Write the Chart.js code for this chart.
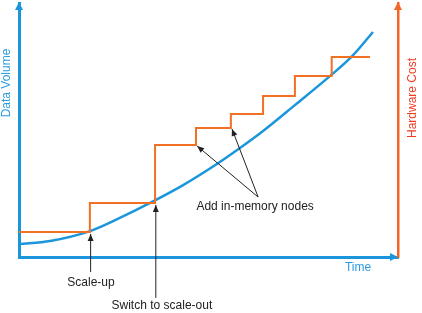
<!DOCTYPE html>
<html>
<head>
<meta charset="utf-8">
<script src="https://cdn.jsdelivr.net/npm/chart.js@4/dist/chart.umd.min.js"></script>
<style>
  html, body { margin: 0; padding: 0; background: #fff; }
  canvas { display: block; }
</style>
</head>
<body>
<canvas id="chart" width="422" height="313"></canvas>
<script>
/* Scale-up vs scale-out sketch: data volume grows smoothly, hardware cost in steps.
   Units are arbitrary (0-100 on both axes). */
const volumeTime = [0, 8.2, 18.7, 26.6, 34.6, 43.3, 52.2, 58.3, 64.4, 72.8, 82.1, 87.9, 93.4];
const dataVolume = [5.1, 6.3, 10.2, 15.4, 21.3, 28.3, 36.6, 42.9, 49.6, 59.8, 71.3, 79.1, 88.6];

const stepTime     = [0, 18.7, 35.9, 46.7, 55.9, 64.4, 72.8, 82.5, 92.6];
const hardwareCost = [9.8, 21.3, 44.1, 50.8, 56.3, 63.4, 71.3, 78.7, 78.7];

const BLUE   = "#1b96dc";
const ORANGE = "#f07024";
const TEXT   = "#222";
const FONT   = "12px 'Liberation Sans', Arial, sans-serif";

// callouts, in data units (tail -> tip)
const arrows = [
  { from: [18.9, -5.9],  to: [18.9, 9.1] },
  { from: [36.1, -16.1], to: [36.1, 20.5] },
  { from: [63.1, 23.6],  to: [47.0, 43.7] },
  { from: [63.1, 23.6],  to: [56.2, 50.4] },
];
const labels = [
  { text: "Scale-up",            at: [19.0, -10.2] },
  { text: "Switch to scale-out", at: [37.7, -19.3] },
  { text: "Add in-memory nodes", at: [62.3, 19.7] },
];

function arrowHead(ctx, x1, y1, x2, y2, len, half, color) {
  const a = Math.atan2(y2 - y1, x2 - x1);
  ctx.fillStyle = color;
  ctx.beginPath();
  ctx.moveTo(x2, y2);
  ctx.lineTo(x2 - len * Math.cos(a) + half * Math.sin(a), y2 - len * Math.sin(a) - half * Math.cos(a));
  ctx.lineTo(x2 - len * Math.cos(a) - half * Math.sin(a), y2 - len * Math.sin(a) + half * Math.cos(a));
  ctx.closePath();
  ctx.fill();
}

const sketchPlugin = {
  id: "sketch",
  afterDraw(chart) {
    const { ctx, chartArea: a, scales } = chart;
    const px = v => scales.x.getPixelForValue(v);
    const py = v => scales.y.getPixelForValue(v);
    ctx.save();

    // axis arrowheads
    arrowHead(ctx, a.left, a.bottom, a.left, a.top - 1, 8, 4, BLUE);
    arrowHead(ctx, a.left, a.bottom, a.right, a.bottom, 8, 4, BLUE);
    arrowHead(ctx, a.right, a.bottom, a.right, a.top - 1, 8, 4, "#f26522");

    // axis names
    ctx.font = FONT;
    ctx.textAlign = "center";
    ctx.textBaseline = "middle";
    ctx.fillStyle = "#2a9be0";
    ctx.fillText("Time", a.right - 40, a.bottom + 11);
    ctx.save();
    ctx.translate(a.left - 12, 83);
    ctx.rotate(-Math.PI / 2);
    ctx.fillText("Data Volume", 0, 0);
    ctx.restore();
    ctx.save();
    ctx.fillStyle = "#ef3b24";
    ctx.translate(a.right + 15, 98);
    ctx.rotate(-Math.PI / 2);
    ctx.fillText("Hardware Cost", 0, 0);
    ctx.restore();

    // callouts
    ctx.strokeStyle = TEXT;
    ctx.lineWidth = 1;
    arrows.forEach(ar => {
      const x1 = px(ar.from[0]), y1 = py(ar.from[1]);
      const x2 = px(ar.to[0]), y2 = py(ar.to[1]);
      ctx.beginPath();
      ctx.moveTo(x1, y1);
      ctx.lineTo(x2, y2);
      ctx.stroke();
      arrowHead(ctx, x1, y1, x2, y2, 7, 3, TEXT);
    });
    ctx.fillStyle = TEXT;
    labels.forEach(l => ctx.fillText(l.text, px(l.at[0]), py(l.at[1])));
    ctx.restore();
  }
};

const noSize = axis => s => { if (axis === "x") s.height = 0; else s.width = 0; };

new Chart(document.getElementById("chart"), {
  type: "line",
  data: {
    datasets: [
      {
        label: "Hardware Cost",
        data: stepTime.map((t, i) => ({ x: t, y: hardwareCost[i] })),
        borderColor: ORANGE,
        borderWidth: 2,
        pointRadius: 0,
        stepped: "before",
        yAxisID: "y",
      },
      {
        label: "Data Volume",
        data: volumeTime.map((t, i) => ({ x: t, y: dataVolume[i] })),
        borderColor: BLUE,
        borderWidth: 2.5,
        pointRadius: 0,
        cubicInterpolationMode: "monotone",
        yAxisID: "y",
      },
    ],
  },
  options: {
    responsive: false,
    animation: false,
    devicePixelRatio: 1,
    layout: { padding: { left: 19, right: 24, top: 3, bottom: 56 } },
    plugins: { legend: { display: false }, tooltip: { enabled: false } },
    scales: {
      x: {
        type: "linear", min: 0, max: 100,
        ticks: { display: false },
        grid: { display: false, drawTicks: false },
        border: { display: true, color: BLUE, width: 3 },
        afterFit: noSize("x"),
      },
      y: {
        type: "linear", min: 0, max: 100, position: "left",
        ticks: { display: false },
        grid: { display: false, drawTicks: false },
        border: { display: true, color: BLUE, width: 3 },
        afterFit: noSize("y"),
      },
      y2: {
        type: "linear", min: 0, max: 100, position: "right",
        ticks: { display: false },
        grid: { display: false, drawTicks: false },
        border: { display: true, color: "#f26522", width: 2.5 },
        afterFit: noSize("y2"),
      },
    },
  },
  plugins: [sketchPlugin],
});
</script>
</body>
</html>
